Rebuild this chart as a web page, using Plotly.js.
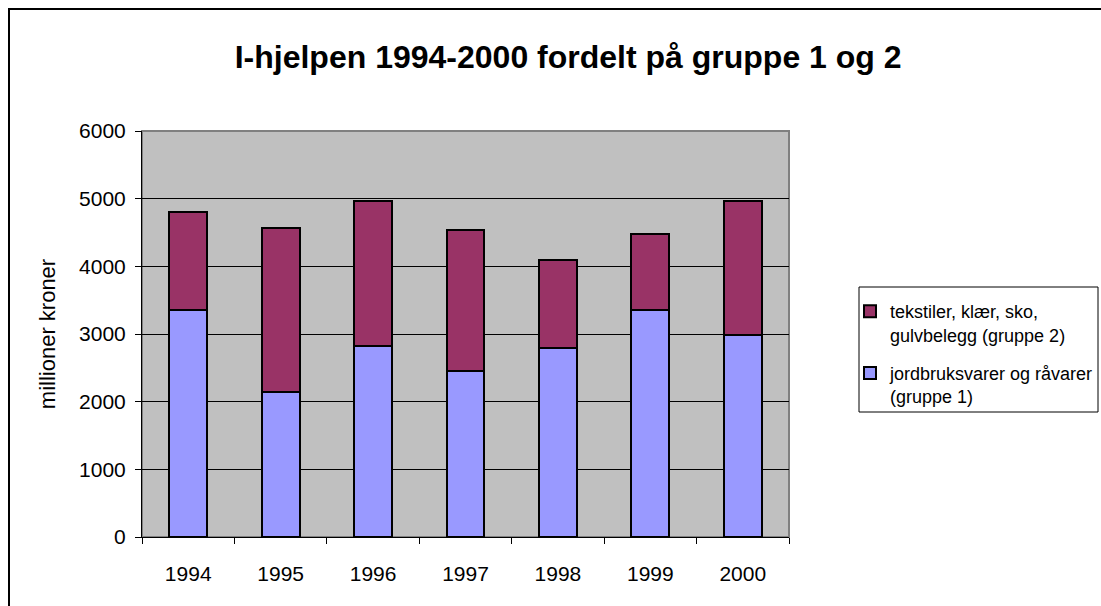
<!DOCTYPE html>
<html>
<head>
<meta charset="utf-8">
<script src="https://cdn.plot.ly/plotly-3.0.1.min.js"></script>
<style>
  html, body { margin: 0; padding: 0; background: #fff; overflow: hidden; }
  #wrap { position: relative; width: 1101px; height: 606px; }
  #frame { position: absolute; left: 8px; top: 8px; width: 1200px; height: 700px; border: 2px solid #000; box-sizing: border-box; pointer-events: none; z-index: 5; }
  #chart { position: absolute; left: 0; top: 0; width: 1101px; height: 606px; }
</style>
</head>
<body>
<div id="wrap">
  <div id="chart"></div>
  <div id="frame"></div>
</div>
<script>
const years = ["1994", "1995", "1996", "1997", "1998", "1999", "2000"];
const gruppe1 = [3360, 2150, 2830, 2455, 2800, 3350, 2990];
const gruppe2 = [1440, 2410, 2130, 2085, 1300, 1130, 1970];
const name1 = "jordbruksvarer og råvarer<br>(gruppe 1)";
const name2 = "tekstiler, klær, sko,<br>gulvbelegg (gruppe 2)";
const titleText = "I-hjelpen 1994-2000 fordelt på gruppe 1 og 2";
const yTitle = "millioner kroner";

const font = "Liberation Sans, Arial, sans-serif";

const traces = [
  { type: "bar", x: years, y: gruppe1, name: name1, legendgroup: "g1", legendrank: 2,
    marker: { color: "#9999FF", line: { color: "#000", width: 2 } } },
  { type: "bar", x: years, y: gruppe2, name: name2, legendgroup: "g2", legendrank: 1,
    marker: { color: "#993366", line: { color: "#000", width: 2 } } }
];

// plot area in px: x 142..789, y 131..537
const PL = 142, PR = 789, PT = 131, PB = 537;
const px = v => (v - PL) / (PR - PL);
const py = v => (PB - v) / (PB - PT);

const layout = {
  width: 1101, height: 606,
  margin: { l: PL, r: 1101 - PR, t: PT, b: 606 - PB },
  paper_bgcolor: "#fff",
  plot_bgcolor: "#C0C0C0",
  barmode: "stack",
  bargap: 0.59,
  font: { family: font, color: "#000", size: 21 },
  title: { text: "<b>" + titleText + "</b>", font: { family: font, size: 32, color: "#000" },
           x: 0.516, xref: "container", xanchor: "center", y: 1 - 57 / 606, yref: "container", yanchor: "middle" },
  xaxis: { type: "category", tickson: "boundaries", ticks: "outside", ticklen: 6, tickcolor: "#000",
           showline: true, linecolor: "#000", linewidth: 1, showgrid: false, ticklabelstandoff: 18,
           tickfont: { family: font, size: 21, color: "#000" } },
  yaxis: { range: [0, 6000], dtick: 1000, tick0: 0, ticks: "outside", ticklen: 6, tickcolor: "#000",
           showline: true, linecolor: "#000", linewidth: 1, showgrid: true, gridcolor: "#000", gridwidth: 1,
           zeroline: false, ticklabelstandoff: 5, tickfont: { family: font, size: 21, color: "#000" },
           title: { text: yTitle, font: { family: font, size: 22, color: "#000" }, standoff: 17 } },
  legend: { xref: "container", yref: "container", x: 850 / 1101, xanchor: "left",
            y: 1 - 293 / 606, yanchor: "top", traceorder: "grouped", tracegroupgap: 12,
            valign: "top", borderwidth: 0, bgcolor: "rgba(0,0,0,0)",
            font: { family: font, size: 18, color: "#000" } },
  shapes: [
    { type: "rect", xref: "paper", yref: "paper", x0: 0, x1: 1, y0: 0, y1: 1,
      line: { color: "#808080", width: 2 }, layer: "below" },
    { type: "rect", xref: "paper", yref: "paper", x0: px(859), x1: px(1098), y0: py(412), y1: py(287),
      line: { color: "#000", width: 1 }, fillcolor: "#fff", layer: "below" }
  ],
  showlegend: true
};

Plotly.newPlot("chart", traces, layout, { displayModeBar: false, staticPlot: true });
</script>
</body>
</html>
